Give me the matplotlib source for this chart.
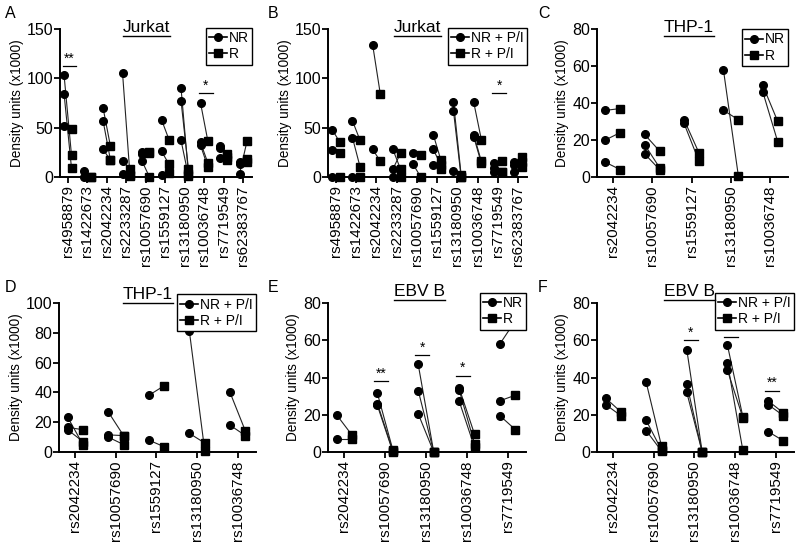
import matplotlib
matplotlib.use('Agg')
import matplotlib.pyplot as plt
from matplotlib.lines import Line2D

plt.rcParams['font.family'] = ['Liberation Sans', 'DejaVu Sans']
plt.rcParams['font.size'] = 10

# ---- data (density units x1000), each inner list = paired donors ----
snps_ab = ['rs4958879', 'rs1422673', 'rs2042234', 'rs2233287', 'rs10057690',
           'rs1559127', 'rs13180950', 'rs10036748', 'rs7719549', 'rs62383767']
snps_cd = ['rs2042234', 'rs10057690', 'rs1559127', 'rs13180950', 'rs10036748']
snps_ef = ['rs2042234', 'rs10057690', 'rs13180950', 'rs10036748', 'rs7719549']

nr_a = [[103, 84, 52], [6, 0], [70, 57, 28], [105, 16, 3], [25, 23, 16],
        [58, 26, 2], [90, 77, 37], [75, 35, 32], [31, 29, 19], [15, 13, 3]]
r_a = [[22, 9, 49], [0, 0], [31, 17, 17], [2, 8, 1], [25, 24, 0],
       [38, 13, 4], [3, 8, 1], [36, 14, 10], [23, 20, 17], [18, 15, 36]]
stars_a = [(0, '**', 112), (7, '*', 85)]

nr_b = [[48, 27, 0], [57, 40, 0], [134, 28], [28, 8, 0], [24, 13],
        [43, 28, 12], [76, 67, 6], [76, 43, 41], [14, 9, 5], [15, 12, 5]]
r_b = [[35, 24, 0], [37, 10, 0], [84, 16], [8, 24, 0], [22, 0],
       [17, 12, 8], [2, 0, 0], [38, 16, 14], [16, 5, 5], [20, 15, 10]]
stars_b = [(8, '*', 85)]

nr_c = [[36, 20, 8], [23, 17.5, 12.5], [31, 29], [58, 36], [49.5, 46]]
r_c = [[37, 24, 4], [14, 5, 4], [13, 8.5], [0.5, 31], [30, 19]]
stars_c = []

nr_d = [[23.5, 16.5, 15], [27, 11.5, 10], [38, 8], [81, 12.5], [40, 18]]
r_d = [[5, 15, 7], [11, 11, 5], [44.5, 3.5], [0.5, 6], [14, 11]]
stars_d = []

nr_e = [[20, 7], [31.5, 26, 25], [47, 33, 20.5], [34.5, 33.5, 27.5], [58, 27.5, 19.5]]
r_e = [[9, 7], [1, 0.5, 0], [0, 0, 0], [9.5, 4.5, 2.5], [70.5, 30.5, 12]]
stars_e = [(1, '**', 38), (2, '*', 52), (3, '*', 41)]

nr_f = [[29, 25.5], [37.5, 17, 11.5], [55, 36.5, 32], [57.5, 48, 44], [27.5, 25.5, 11]]
r_f = [[21.5, 19.5], [3, 1, 0.5], [0, 0, 0], [19, 1, 18.5], [21, 19.5, 6]]
stars_f = [(2, '*', 60), (3, '*', 62), (4, '**', 33)]

panels = [
    ('A', 'Jurkat', snps_ab, nr_a, r_a, stars_a, 150, 50, ['NR', 'R']),
    ('B', 'Jurkat', snps_ab, nr_b, r_b, stars_b, 150, 50, ['NR + P/I', 'R + P/I']),
    ('C', 'THP-1', snps_cd, nr_c, r_c, stars_c, 80, 20, ['NR', 'R']),
    ('D', 'THP-1', snps_cd, nr_d, r_d, stars_d, 100, 20, ['NR + P/I', 'R + P/I']),
    ('E', 'EBV B', snps_ef, nr_e, r_e, stars_e, 80, 20, ['NR', 'R']),
    ('F', 'EBV B', snps_ef, nr_f, r_f, stars_f, 80, 20, ['NR + P/I', 'R + P/I']),
]

W, H = 800, 543
fig = plt.figure(figsize=(8, 5.43), dpi=100)

# axes boxes in pixels: left, right, top, bottom
boxes = [(60, 252, 29, 177), (328, 527, 29, 177), (597, 788, 29, 177),
         (59, 256, 303, 452), (328, 526, 303, 452), (597, 794, 303, 452)]
letter_pos = [(5, 6), (268, 6), (538, 6), (5, 280), (268, 280), (538, 280)]
title_y = [0.96, 0.96, 0.96, 1.01, 1.03, 1.03]
legend_y = [1.01, 1.01, 1.0, 1.06, 1.07, 1.07]
title_x = [0.45, 0.45, 0.48, 0.45, 0.46, 0.47]

titles = []
for i, (letter, title, snps, nr, rr, stars, ymax, ystep, labels) in enumerate(panels):
    l, r, t, b = boxes[i]
    ax = fig.add_axes([l / W, 1 - b / H, (r - l) / W, (b - t) / H])
    n = len(snps)
    off = 0.19
    for k in range(n):
        for a_val, b_val in zip(nr[k], rr[k]):
            ax.plot([k - off, k + off], [a_val, b_val], color='#222222', lw=0.8,
                    zorder=2, clip_on=False)
        ax.plot([k - off] * len(nr[k]), nr[k], 'o', color='black', ms=5.5,
                zorder=3, clip_on=False)
        ax.plot([k + off] * len(rr[k]), rr[k], 's', color='black', ms=5.2,
                zorder=3, clip_on=False)
    bw = 0.07 * n
    for k, s, yv in stars:
        x0 = k - 0.27
        ax.plot([x0, x0 + bw], [yv, yv], color='black', lw=0.9, clip_on=False)
        ax.text(x0 + bw / 2, yv + ymax * 0.005, s, ha='center', va='bottom',
                fontsize=10)

    ax.set_xlim(-0.4, n - 0.55)
    ax.set_ylim(0, ymax)
    ax.set_yticks(range(0, ymax + 1, ystep))
    ax.set_xticks(range(n))
    ax.set_xticklabels(snps, rotation=90, fontsize=11)
    ax.tick_params(axis='y', labelsize=11.5, width=1.3, length=4, pad=1)
    ax.tick_params(axis='x', width=1.3, length=4, pad=2)
    for sp in ['top', 'right']:
        ax.spines[sp].set_visible(False)
    for sp in ['left', 'bottom']:
        ax.spines[sp].set_linewidth(1.4)
    ax.set_ylabel('Density units (x1000)', fontsize=9.8, labelpad=2)

    handles = [Line2D([], [], color='black', marker='o', ms=5.5, lw=1.2),
               Line2D([], [], color='black', marker='s', ms=5.2, lw=1.2)]
    leg = ax.legend(handles, labels, loc='upper right',
                    bbox_to_anchor=(1.0, legend_y[i]), borderaxespad=0,
                    fontsize=10, handlelength=1.3, handletextpad=0.1,
                    labelspacing=0.15, borderpad=0.25, fancybox=False,
                    framealpha=1)
    leg.get_frame().set_edgecolor('black')
    leg.get_frame().set_linewidth(1.0)

    tt = ax.text(title_x[i], title_y[i], title, transform=ax.transAxes,
                 ha='center', va='bottom', fontsize=12.5)
    titles.append(tt)

    lx, ly = letter_pos[i]
    fig.text(lx / W, 1 - ly / H, letter, ha='left', va='top', fontsize=11.5)

# underline the cell line titles
fig.canvas.draw()
renderer = fig.canvas.get_renderer()
for tt in titles:
    bb = tt.get_window_extent(renderer).transformed(fig.transFigure.inverted())
    fig.add_artist(Line2D([bb.x0, bb.x1], [bb.y0 - 0.002, bb.y0 - 0.002],
                          color='black', lw=1.0, transform=fig.transFigure))

fig.savefig('out.png', dpi=100)
